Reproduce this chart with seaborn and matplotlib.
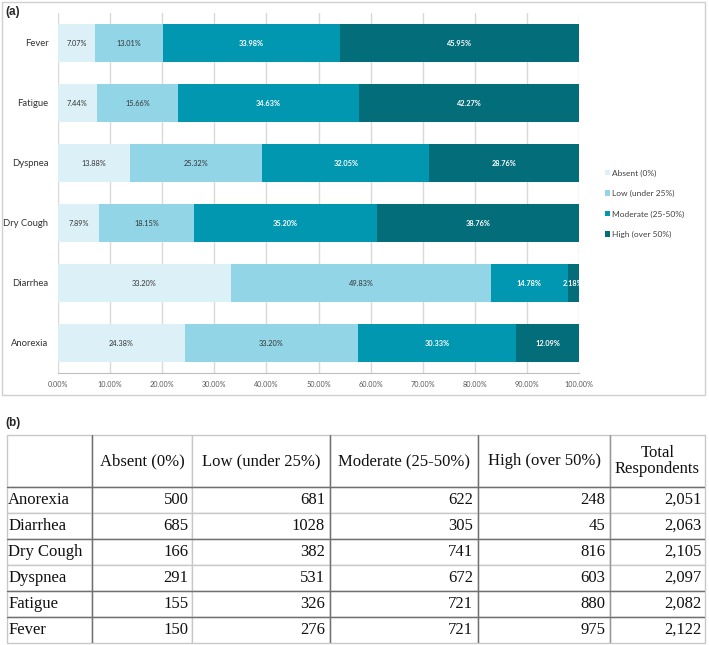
import pandas as pd
import matplotlib.pyplot as plt
import seaborn as sns
from matplotlib.patches import Patch, Rectangle

# Datos (orden de la tabla)
symptoms = ['Anorexia', 'Diarrhea', 'Dry Cough', 'Dyspnea', 'Fatigue', 'Fever']
levels = ['Absent (0%)', 'Low (under 25%)', 'Moderate (25-50%)', 'High (over 50%)']
absent = [500, 685, 166, 291, 155, 150]
low = [681, 1028, 382, 531, 326, 276]
moderate = [622, 305, 741, 672, 721, 721]
high = [248, 45, 816, 603, 880, 975]
total = [2051, 2063, 2105, 2097, 2082, 2122]

colors = ['#DCF0F7', '#92D5E6', '#0197B0', '#036D7A']
label_colors = ['#333333', '#333333', 'white', 'white']

W, H = 709, 645
fig = plt.figure(figsize=(W / 100, H / 100), dpi=100)
sns.set_style('white')
plt.rcParams['font.family'] = ['Lato', 'DejaVu Sans']

df = pd.DataFrame({'symptom': symptoms, levels[0]: absent, levels[1]: low,
                   levels[2]: moderate, levels[3]: high, 'total': total})
pct = df[levels].div(df['total'], axis=0) * 100
pct['symptom'] = df['symptom']
order = symptoms[::-1]

# --- (a) barras apiladas ---
ax = fig.add_axes([58 / W, 1 - 373 / H, 521 / W, 360 / H])
cum = pct[levels].cumsum(axis=1)
cum['symptom'] = pct['symptom']
for i in range(len(levels) - 1, -1, -1):
    sns.barplot(data=cum, x=levels[i], y='symptom', order=order, orient='h',
                color=colors[i], saturation=1, width=0.63, linewidth=0, ax=ax)

for j, s in enumerate(order):
    row = pct[pct['symptom'] == s].iloc[0]
    left = 0
    for i, lev in enumerate(levels):
        v = row[lev]
        ax.text(left + v / 2, j, f'{v:.2f}%', ha='center', va='center',
                fontsize=5.3, color=label_colors[i],
                fontweight='bold' if i >= 2 else 'normal', clip_on=True)
        left += v

ax.set_xlim(0, 100)
ax.set_ylim(5.5, -0.5)
ax.set_xticks(range(0, 101, 10))
ax.set_xticklabels([f'{v:.2f}%' for v in range(0, 101, 10)])
ax.set_xlabel('')
ax.set_ylabel('')
ax.grid(axis='x', color='#D9D9D9', linewidth=1)
ax.set_axisbelow(True)
for sp in ['top', 'right', 'left']:
    ax.spines[sp].set_visible(False)
ax.spines['bottom'].set_color('#BFBFBF')
ax.tick_params(axis='x', length=0, pad=6, labelsize=5.2, labelcolor='#595959')
ax.tick_params(axis='y', length=0, pad=7, labelsize=6.8, labelcolor='#333333')

handles = [Patch(facecolor=c, edgecolor='none') for c in colors]
fig.legend(handles, levels, loc='upper left', bbox_to_anchor=(597 / W, 1 - 162 / H),
           frameon=False, fontsize=6, handlelength=0.6, handleheight=0.6,
           handletextpad=0.3, labelspacing=1.6, labelcolor='#404040')

fig.add_artist(Rectangle((2 / W, 1 - 395 / H), 703 / W, 393 / H, transform=fig.transFigure,
                         fill=False, edgecolor='#D0D0D0', linewidth=1))
fig.text(5 / W, 1 - 12 / H, '(a)', fontsize=8.5, fontweight='bold', va='center',
         family=['Liberation Sans', 'DejaVu Sans'])
fig.text(5 / W, 1 - 423 / H, '(b)', fontsize=8.5, fontweight='bold', va='center',
         family=['Liberation Sans', 'DejaVu Sans'])

# --- (b) tabla ---
col_px = [85, 100, 138, 148, 132, 95]
col_w = [c / sum(col_px) for c in col_px]
ax_t = fig.add_axes([7 / W, 2 / H, 698 / W, 208 / H])
ax_t.axis('off')
cell_text = [[s, f'{a}', f'{b}', f'{c}', f'{d}', f'{t:,}']
             for s, a, b, c, d, t in zip(symptoms, absent, low, moderate, high, total)]
header = [''] + levels + ['Total\nRespondents']
tbl = ax_t.table(cellText=cell_text, colLabels=header, colWidths=col_w,
                 cellLoc='right', colLoc='center', bbox=[0, 0, 1, 1])
tbl.auto_set_font_size(False)
for (r, c), cell in tbl.get_celld().items():
    cell.set_edgecolor('#C8C8C8')
    cell.set_linewidth(1)
    cell.set_height(52 if r == 0 else 26)
    cell.PAD = 0.035
    txt = cell.get_text()
    txt.set_fontsize(12)
    txt.set_family(['Liberation Serif', 'DejaVu Serif'])
    txt.set_color('#111111')
    if r == 0:
        txt.set_linespacing(1.05)
    if c == 0 and r > 0:
        cell._loc = 'left'
        txt.set_horizontalalignment('left')
        cell.PAD = 0.015

# lineas mas oscuras
edges = [0]
for w in col_w:
    edges.append(edges[-1] + w)
dark = '#707070'
for k in [1, 3, 4]:
    ax_t.plot([edges[k], edges[k]], [0, 1], color=dark, lw=1, transform=ax_t.transAxes)
ax_t.plot([edges[5], edges[5]], [0, 1], color='#999999', lw=1, transform=ax_t.transAxes)
row_h = 26 / 208
for k in [0, 2, 4, 5]:
    y = 1 - 52 / 208 - k * row_h
    ax_t.plot([0, 1], [y, y], color=dark, lw=1, transform=ax_t.transAxes)

fig.savefig('out.png', dpi=100)
